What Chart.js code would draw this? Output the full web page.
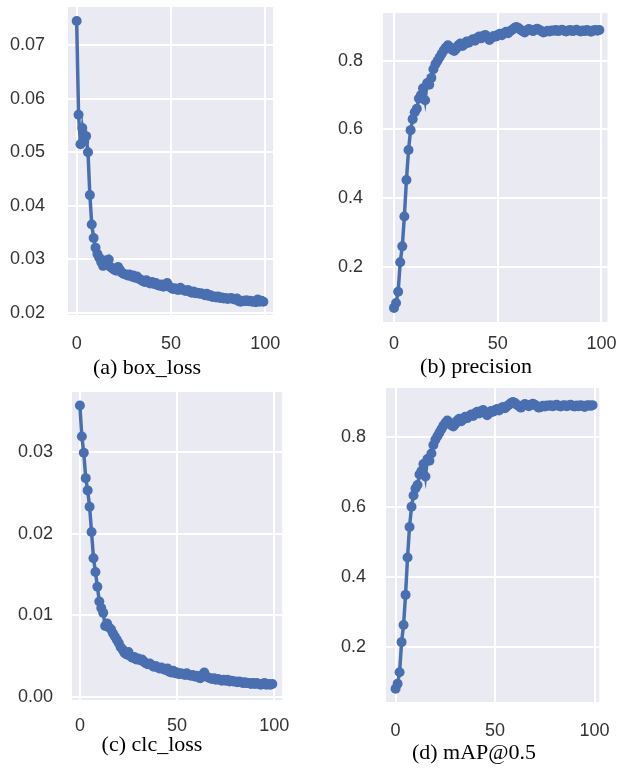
<!DOCTYPE html>
<html>
<head>
<meta charset="utf-8">
<script src="https://cdn.jsdelivr.net/npm/chart.js@4.4.1/dist/chart.umd.min.js"></script>
<style>
  html, body { margin: 0; padding: 0; background: #fff; overflow: hidden; }
  body { position: relative; width: 619px; height: 771px; }
  canvas { position: absolute; }
  .cap { position: absolute; font-family: "Liberation Serif", "Times New Roman", serif; font-size: 22px; color: #000;
         transform: translate(-50%, -50%); white-space: nowrap; }
</style>
</head>
<body>
<canvas id="boxChart"></canvas>
<canvas id="precChart"></canvas>
<canvas id="clcChart"></canvas>
<canvas id="mapChart"></canvas>
<div class="cap" style="left:147px;top:367px">(a) box_loss</div>
<div class="cap" style="left:476px;top:366px">(b) precision</div>
<div class="cap" style="left:152px;top:744px">(c) clc_loss</div>
<div class="cap" style="left:474px;top:752px">(d) mAP@0.5</div>
<script>
// Epochs 0..99
const epochs = [
  0,1,2,3,4,5,6,7,8,9,10,11,12,13,14,15,16,17,18,19,
  20,21,22,23,24,25,26,27,28,29,30,31,32,33,34,35,36,37,38,39,
  40,41,42,43,44,45,46,47,48,49,50,51,52,53,54,55,56,57,58,59,
  60,61,62,63,64,65,66,67,68,69,70,71,72,73,74,75,76,77,78,79,
  80,81,82,83,84,85,86,87,88,89,90,91,92,93,94,95,96,97,98,99
];

const boxLoss = [
  .0745,.0570,.0515,.0545,.0520,.0530,.0500,.0420,.0365,.0340,
  .0322,.0310,.0303,.0295,.0288,.0298,.0290,.0300,.0286,.0283,
  .0281,.0279,.0286,.0280,.0275,.0273,.0272,.0270,.0272,.0268,
  .0270,.0266,.0268,.0264,.0262,.0260,.0258,.0261,.0257,.0255,
  .0258,.0254,.0256,.0252,.0251,.0253,.0249,.0252,.0256,.0250,
  .0247,.0245,.0246,.0244,.0243,.0247,.0244,.0242,.0241,.0243,
  .0240,.0238,.0240,.0237,.0238,.0236,.0237,.0235,.0233,.0236,
  .0232,.0233,.0230,.0231,.0229,.0231,.0228,.0229,.0227,.0228,
  .0226,.0227,.0228,.0226,.0225,.0227,.0222,.0221,.0223,.0222,
  .0224,.0222,.0223,.0221,.0222,.0220,.0225,.0221,.0223,.0221
];

const precision = [
  .081,.095,.128,.214,.260,.347,.453,.540,.598,.630,
  .650,.660,.690,.700,.720,.685,.735,.730,.750,.775,
  .790,.800,.810,.820,.830,.838,.845,.840,.832,.828,
  .835,.845,.850,.843,.848,.856,.852,.858,.862,.858,
  .866,.870,.865,.872,.875,.868,.860,.866,.872,.870,
  .875,.878,.874,.880,.884,.880,.886,.890,.895,.898,
  .895,.890,.886,.882,.888,.892,.889,.886,.890,.893,
  .890,.886,.882,.884,.887,.885,.888,.887,.889,.886,
  .888,.890,.887,.885,.888,.889,.886,.888,.890,.887,
  .885,.888,.886,.889,.887,.884,.888,.889,.887,.889
];

const clcLoss = [
  .0357,.0319,.0299,.0268,.0253,.0233,.0202,.0170,.0153,.0135,
  .0117,.0109,.0103,.0087,.0090,.0085,.0083,.0078,.0074,.0070,
  .0066,.0061,.0058,.0054,.0052,.0055,.0050,.0048,.0049,.0046,
  .0047,.0045,.0046,.0043,.0041,.0040,.0041,.0039,.0037,.0038,
  .0036,.0035,.0036,.0034,.0033,.0035,.0031,.0030,.0032,.0029,
  .0030,.0028,.0029,.0028,.0027,.0029,.0027,.0026,.0027,.0025,
  .0026,.0024,.0023,.0027,.0030,.0025,.0024,.0023,.0022,.0023,
  .0021,.0022,.0021,.0020,.0021,.0020,.0021,.0019,.0020,.0019,
  .0019,.0018,.0019,.0018,.0017,.0018,.0017,.0017,.0016,.0017,
  .0016,.0017,.0016,.0015,.0016,.0017,.0015,.0016,.0015,.0016
];

const mAP50 = [
  .080,.094,.127,.213,.262,.348,.455,.542,.600,.632,
  .652,.662,.692,.702,.722,.686,.736,.731,.752,.776,
  .791,.801,.811,.821,.831,.839,.846,.841,.833,.829,
  .836,.846,.851,.844,.849,.857,.853,.859,.863,.859,
  .867,.871,.866,.873,.876,.869,.861,.867,.873,.871,
  .876,.879,.875,.881,.885,.881,.887,.891,.896,.899,
  .896,.891,.887,.883,.889,.893,.890,.887,.891,.894,
  .891,.887,.883,.885,.888,.886,.889,.888,.890,.887,
  .889,.891,.888,.886,.889,.890,.887,.889,.891,.888,
  .886,.889,.887,.890,.888,.885,.889,.890,.888,.890
];

const xTicks = [0, 50, 100];
const xTickLabels = ['0', '50', '100'];
const boxTicks = [0.02, 0.03, 0.04, 0.05, 0.06, 0.07];
const boxTickLabels = ['0.02', '0.03', '0.04', '0.05', '0.06', '0.07'];
const clcTicks = [0.00, 0.01, 0.02, 0.03];
const clcTickLabels = ['0.00', '0.01', '0.02', '0.03'];
const scoreTicks = [0.2, 0.4, 0.6, 0.8];
const scoreTickLabels = ['0.2', '0.4', '0.6', '0.8'];

// seaborn-like plot background
const plotBg = {
  id: 'plotBg',
  beforeDraw(chart) {
    const a = chart.chartArea;
    const ctx = chart.ctx;
    ctx.save();
    ctx.fillStyle = '#EAEAF2';
    ctx.fillRect(a.left, a.top, a.right - a.left, a.bottom - a.top);
    ctx.restore();
  }
};

// top pad must exceed the y axis label padding Chart.js reserves
const Y_W = 62, RIGHT_PAD = 20, TOP_PAD = 45, X_H = 50;

function makePanel(id, p) {
  const canvas = document.getElementById(id);
  const w = Y_W + p.plotW + RIGHT_PAD;
  const h = TOP_PAD + p.plotH + X_H;
  canvas.width = w;
  canvas.height = h;
  canvas.style.width = w + 'px';
  canvas.style.height = h + 'px';
  canvas.style.left = (p.plotLeft - Y_W) + 'px';
  canvas.style.top = (p.plotTop - TOP_PAD) + 'px';

  const tickFont = { family: '"Liberation Sans", Arial, sans-serif', size: 18 };

  return new Chart(canvas, {
    type: 'line',
    data: {
      datasets: [{
        data: epochs.map((e, i) => ({ x: e, y: p.values[i] })),
        borderColor: '#4A6FB0',
        backgroundColor: '#4A6FB0',
        borderWidth: 3.5,
        pointRadius: 5,
        pointBorderWidth: 0,
        tension: 0
      }]
    },
    options: {
      responsive: false,
      animation: false,
      devicePixelRatio: 1,
      layout: { padding: { top: TOP_PAD, right: RIGHT_PAD, left: 0, bottom: 0 } },
      plugins: { legend: { display: false }, tooltip: { enabled: false } },
      scales: {
        x: {
          type: 'linear',
          min: p.xMin,
          max: p.xMax,
          afterBuildTicks: s => { s.ticks = xTicks.map(v => ({ value: v })); },
          afterFit: s => { s.height = X_H; },
          grid: { color: '#ffffff', lineWidth: 2, drawTicks: false },
          border: { display: false },
          ticks: {
            padding: p.xPad,
            color: '#333',
            font: tickFont,
            maxRotation: 0,
            callback: (v, i) => xTickLabels[i]
          }
        },
        y: {
          min: p.yMin,
          max: p.yMax,
          afterBuildTicks: s => { s.ticks = p.ticks.map(v => ({ value: v })); },
          afterFit: s => { s.width = Y_W; },
          grid: { color: '#ffffff', lineWidth: 2, drawTicks: false },
          border: { display: false },
          ticks: {
            padding: p.yPad,
            color: '#333',
            font: tickFont,
            callback: (v, i) => p.labels[i]
          }
        }
      }
    },
    plugins: [plotBg]
  });
}

makePanel('boxChart', {
  values: boxLoss, ticks: boxTicks, labels: boxTickLabels,
  plotLeft: 68, plotTop: 7, plotW: 211, plotH: 308,
  xMin: -4.6, xMax: 104.1, yMin: 0.01963, yMax: 0.0771, xPad: 18, yPad: 23
});

makePanel('precChart', {
  values: precision, ticks: scoreTicks, labels: scoreTickLabels,
  plotLeft: 383, plotTop: 13, plotW: 225, plotH: 309,
  xMin: -5.3, xMax: 102.9, yMin: 0.040, yMax: 0.9387, xPad: 11, yPad: 20
});

makePanel('clcChart', {
  values: clcLoss, ticks: clcTicks, labels: clcTickLabels,
  plotLeft: 72, plotTop: 392, plotW: 213, plotH: 308,
  xMin: -4.06, xMax: 104.1, yMin: -0.00037, yMax: 0.03735, xPad: 15, yPad: 19
});

makePanel('mapChart', {
  values: mAP50, ticks: scoreTicks, labels: scoreTickLabels,
  plotLeft: 386, plotTop: 388, plotW: 222, plotH: 314,
  xMin: -4.83, xMax: 102.4, yMin: 0.042, yMax: 0.939, xPad: 18, yPad: 20
});
</script>
</body>
</html>
